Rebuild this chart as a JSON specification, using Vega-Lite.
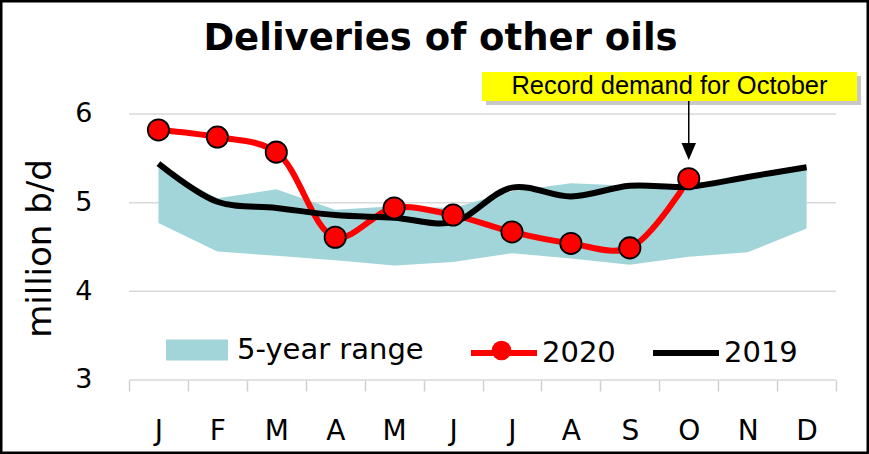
{
  "$schema": "https://vega.github.io/schema/vega-lite/v6.json",
  "width": 869,
  "height": 454,
  "autosize": {"type": "none"},
  "padding": 0,
  "background": "white",
  "config": {
    "view": {"stroke": "black", "strokeWidth": 5},
    "axis": {"labelColor": "black", "titleColor": "black"},
    "legend": {"labelFont": "DejaVu Sans", "labelFontSize": 29, "labelColor": "black", "labelLimit": 400, "padding": 0, "orient": "none", "direction": "horizontal"}
  },
  "title": {
    "text": "Deliveries of other oils",
    "font": "DejaVu Sans",
    "fontWeight": "bold",
    "fontSize": 37,
    "color": "black",
    "anchor": "middle",
    "frame": "group",
    "baseline": "alphabetic",
    "offset": -87,
    "dx": 6
  },
  "datasets": {
    "band": [
      {"month": 1, "lo": 4.77, "hi": 5.39},
      {"month": 2, "lo": 4.45, "hi": 5.05},
      {"month": 3, "lo": 4.40, "hi": 5.15},
      {"month": 4, "lo": 4.35, "hi": 4.92},
      {"month": 5, "lo": 4.29, "hi": 4.96},
      {"month": 6, "lo": 4.33, "hi": 4.94},
      {"month": 7, "lo": 4.43, "hi": 5.13},
      {"month": 8, "lo": 4.37, "hi": 5.22},
      {"month": 9, "lo": 4.30, "hi": 5.19},
      {"month": 10, "lo": 4.39, "hi": 5.18},
      {"month": 11, "lo": 4.44, "hi": 5.28},
      {"month": 12, "lo": 4.71, "hi": 5.37}
    ],
    "lines": [
      {"series": "2020", "month": 1, "value": 5.82},
      {"series": "2020", "month": 2, "value": 5.74},
      {"series": "2020", "month": 3, "value": 5.57},
      {"series": "2020", "month": 4, "value": 4.61},
      {"series": "2020", "month": 5, "value": 4.94},
      {"series": "2020", "month": 6, "value": 4.86},
      {"series": "2020", "month": 7, "value": 4.67},
      {"series": "2020", "month": 8, "value": 4.54},
      {"series": "2020", "month": 9, "value": 4.49},
      {"series": "2020", "month": 10, "value": 5.27},
      {"series": "2019", "month": 1, "value": 5.44},
      {"series": "2019", "month": 2, "value": 5.01},
      {"series": "2019", "month": 3, "value": 4.94},
      {"series": "2019", "month": 4, "value": 4.86},
      {"series": "2019", "month": 5, "value": 4.83},
      {"series": "2019", "month": 6, "value": 4.78},
      {"series": "2019", "month": 7, "value": 5.17},
      {"series": "2019", "month": 8, "value": 5.07},
      {"series": "2019", "month": 9, "value": 5.19},
      {"series": "2019", "month": 10, "value": 5.18},
      {"series": "2019", "month": 11, "value": 5.29},
      {"series": "2019", "month": 12, "value": 5.40}
    ],
    "grid": [{"v": 3}, {"v": 4}, {"v": 5}, {"v": 6}],
    "note": [{"month": 10, "note": "Record demand for October"}]
  },
  "layer": [
    {
      "data": {"name": "grid"},
      "mark": {"type": "rule", "color": "#d9d9d9", "strokeWidth": 1.5},
      "encoding": {
        "x": {"datum": 0.5, "type": "quantitative"},
        "x2": {"datum": 12.5},
        "y": {"field": "v", "type": "quantitative"}
      }
    },
    {
      "data": {"name": "band"},
      "mark": {"type": "area", "strokeWidth": 0, "interpolate": "linear", "opacity": 1},
      "encoding": {
        "x": {
          "field": "month",
          "type": "quantitative",
          "scale": {"domain": [-1.689, 13.059], "nice": false, "zero": false},
          "axis": {
            "title": null,
            "values": [0.5, 1.5, 2.5, 3.5, 4.5, 5.5, 6.5, 7.5, 8.5, 9.5, 10.5, 11.5, 12.5],
            "labelExpr": "['J','F','M','A','M','J','J','A','S','O','N','D',''][floor(datum.value)]",
            "labelOffset": 29.46,
            "grid": false,
            "domain": false,
            "ticks": true,
            "tickSize": 11,
            "tickColor": "#d0d0d0",
            "tickWidth": 1.5,
            "offset": -74,
            "labelPadding": 26,
            "labelBaseline": "top",
            "labelFont": "DejaVu Sans",
            "labelFontSize": 28,
            "labelOverlap": false,
            "labelFlush": false,
            "labelBound": false
          }
        },
        "y": {
          "field": "lo",
          "type": "quantitative",
          "scale": {"domain": [2.1654, 7.2857], "nice": false, "zero": false},
          "axis": {
            "title": "million b/d",
            "values": [3, 4, 5, 6],
            "format": "d",
            "grid": false,
            "domain": false,
            "ticks": false,
            "tickSize": 0,
            "labelPadding": 0,
            "offset": -92,
            "labelFont": "DejaVu Sans",
            "labelFontSize": 27,
            "titleFont": "DejaVu Sans",
            "titleFontSize": 34,
            "titleFontWeight": "normal",
            "titleX": -52,
            "titleY": 248,
            "titleAngle": 270,
            "titleBaseline": "middle",
            "titleAlign": "center"
          }
        },
        "y2": {"field": "hi"},
        "fill": {
          "datum": "5-year range",
          "type": "nominal",
          "title": null,
          "scale": {"domain": ["5-year range"], "range": ["#a1d5d9"]},
          "legend": {
            "title": null,
            "legendX": 166,
            "legendY": 319,
            "symbolType": "M-1,-0.34H1V0.34H-1Z",
            "symbolSize": 3844,
            "symbolStrokeWidth": 0,
            "symbolOpacity": 1,
            "labelOffset": 9
          }
        }
      }
    },
    {
      "data": {"name": "lines"},
      "transform": [{"filter": "datum.series === '2020'"}],
      "mark": {"type": "line", "strokeWidth": 6, "interpolate": "catmull-rom"},
      "encoding": {
        "x": {"field": "month", "type": "quantitative"},
        "y": {"field": "value", "type": "quantitative"},
        "stroke": {
          "field": "series",
          "type": "nominal",
          "title": null,
          "scale": {"domain": ["2020", "2019"], "range": ["#ff0000", "#000000"]},
          "legend": {
            "title": null,
            "legendX": 468,
            "legendY": 317,
            "symbolType": "stroke",
            "symbolSize": 4356,
            "symbolStrokeWidth": 6,
            "labelOffset": 2,
            "columnPadding": 25
          }
        }
      }
    },
    {
      "data": {"name": "lines"},
      "transform": [{"filter": "datum.series === '2019'"}],
      "mark": {"type": "line", "strokeWidth": 6, "interpolate": "catmull-rom"},
      "encoding": {
        "x": {"field": "month", "type": "quantitative"},
        "y": {"field": "value", "type": "quantitative"},
        "stroke": {"field": "series", "type": "nominal", "title": null}
      }
    },
    {
      "data": {"name": "lines"},
      "transform": [{"filter": "datum.series === '2020'"}],
      "mark": {"type": "point", "filled": true, "fill": "#ff0000", "stroke": "black", "strokeWidth": 1.8, "size": 452, "opacity": 1},
      "encoding": {
        "x": {"field": "month", "type": "quantitative"},
        "y": {"field": "value", "type": "quantitative"},
        "shape": {
          "datum": "2020",
          "type": "nominal",
          "title": null,
          "scale": {"domain": ["2020"], "range": ["circle"]},
          "legend": {
            "title": null,
            "legendX": 491,
            "legendY": 340,
            "symbolSize": 380,
            "symbolFillColor": "#ff0000",
            "symbolStrokeColor": "black",
            "symbolStrokeWidth": 1.5,
            "symbolOpacity": 1,
            "labelExpr": "''",
            "labelFontSize": 1,
            "labelOffset": 0
          }
        }
      }
    },
    {
      "data": {"name": "note"},
      "mark": {"type": "rect", "color": "#9a9a9a", "opacity": 0.55},
      "encoding": {
        "x": {"datum": 6.559, "type": "quantitative"},
        "x2": {"datum": 12.924},
        "y": {"datum": 6.4286, "type": "quantitative"},
        "y2": {"datum": 6.1015}
      }
    },
    {
      "data": {"name": "note"},
      "mark": {"type": "rect", "color": "#ffff00"},
      "encoding": {
        "x": {"datum": 6.491, "type": "quantitative"},
        "x2": {"datum": 12.856},
        "y": {"datum": 6.4737, "type": "quantitative"},
        "y2": {"datum": 6.1466}
      }
    },
    {
      "data": {"name": "note"},
      "mark": {"type": "text", "font": "Liberation Sans", "fontSize": 25.5, "color": "black", "align": "center", "baseline": "middle"},
      "encoding": {
        "x": {"datum": 9.673, "type": "quantitative"},
        "y": {"datum": 6.3158, "type": "quantitative"},
        "text": {"field": "note"}
      }
    },
    {
      "data": {"name": "note"},
      "mark": {"type": "rule", "color": "black", "strokeWidth": 1.5},
      "encoding": {
        "x": {"field": "month", "type": "quantitative"},
        "y": {"datum": 6.1466, "type": "quantitative"},
        "y2": {"datum": 5.56}
      }
    },
    {
      "data": {"name": "note"},
      "mark": {"type": "point", "filled": true, "color": "black", "opacity": 1, "shape": "M-0.85,-1L0.85,-1L0,1Z", "size": 289},
      "encoding": {
        "x": {"field": "month", "type": "quantitative"},
        "y": {"datum": 5.577, "type": "quantitative"}
      }
    }
  ]
}
